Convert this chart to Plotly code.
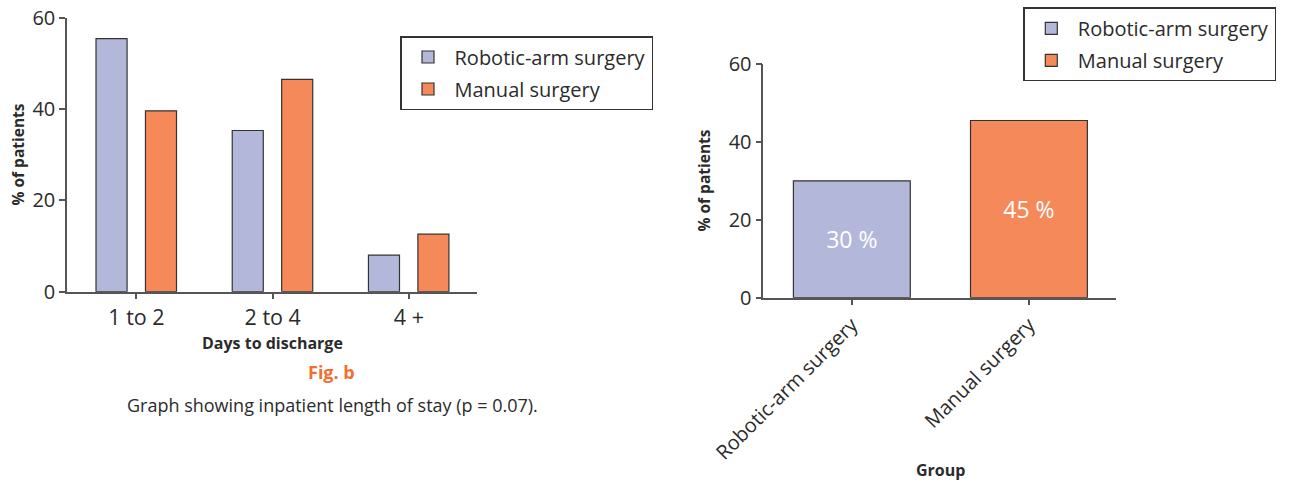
import plotly.graph_objects as go

W, H = 1316, 482
OFF = 0  # body margin removed below

# ---- data ----
days_categories = ["1 to 2", "2 to 4", "4 +"]
robotic_los = [55.4, 35.3, 8.0]
manual_los = [39.6, 46.5, 12.6]

group_categories = ["Robotic-arm surgery", "Manual surgery"]
group_robotic = [30.0]
group_manual = [45.5]
group_labels = ["30 %", "45 %"]

y_ticks = [0, 20, 40, 60]

# ---- style ----
FONT = "Open Sans"
TXT = "#2b2b2b"
AX = "#555555"
C_ROB = "#b3b8db"
C_MAN = "#f5895a"
EDGE = "#333333"
ORANGE = "#f26e30"

def px_x(p):
    return (p - OFF) / W

def px_y(p):
    return 1 - (p - OFF) / H

fig = go.Figure()

# left chart
fig.add_trace(go.Bar(
    x=days_categories, y=robotic_los, name="Robotic-arm surgery",
    marker=dict(color=C_ROB, line=dict(color=EDGE, width=1.2)),
    width=0.228, offset=-0.297, xaxis="x", yaxis="y",
    legend="legend", legendgroup="a", hoverinfo="x+y"))
fig.add_trace(go.Bar(
    x=days_categories, y=manual_los, name="Manual surgery",
    marker=dict(color=C_MAN, line=dict(color=EDGE, width=1.2)),
    width=0.228, offset=0.066, xaxis="x", yaxis="y",
    legend="legend", legendgroup="b", hoverinfo="x+y"))

# right chart
fig.add_trace(go.Bar(
    x=group_categories[:1], y=group_robotic, name="Robotic-arm surgery",
    marker=dict(color=C_ROB, line=dict(color=EDGE, width=1.2)),
    width=0.66, offset=-0.33, xaxis="x2", yaxis="y2",
    text=group_labels[:1], textposition="inside", insidetextanchor="middle",
    textfont=dict(family=FONT, size=23, color="white"),
    legend="legend2", legendgroup="c", hoverinfo="x+y"))
fig.add_trace(go.Bar(
    x=group_categories[1:], y=group_manual, name="Manual surgery",
    marker=dict(color=C_MAN, line=dict(color=EDGE, width=1.2)),
    width=0.66, offset=-0.33, xaxis="x2", yaxis="y2",
    text=group_labels[1:], textposition="inside", insidetextanchor="middle",
    textfont=dict(family=FONT, size=23, color="white"),
    legend="legend2", legendgroup="d", hoverinfo="x+y"))

axis_common = dict(
    showline=True, linecolor=AX, linewidth=1.5,
    ticks="outside", ticklen=6, tickwidth=1.5, tickcolor=AX,
    showgrid=False, zeroline=False, automargin=False,
)

legend_common = dict(
    bgcolor="white", bordercolor=EDGE, borderwidth=1.5,
    font=dict(family=FONT, size=20, color=TXT),
    itemwidth=43, tracegroupgap=3, traceorder="grouped",
    xanchor="left", yanchor="top", itemclick=False, itemdoubleclick=False,
)

fig.update_layout(
    template="none",
    width=W, height=H,
    margin=dict(l=0, r=0, t=0, b=0, autoexpand=False),
    paper_bgcolor="white", plot_bgcolor="white",
    showlegend=True,
    barmode="group",
    font=dict(family=FONT, color=TXT),
    xaxis=dict(domain=[px_x(67), px_x(477)], range=[-0.51, 2.5],
               anchor="y", tickfont=dict(family=FONT, size=21.5, color=TXT),
               **axis_common),
    yaxis=dict(domain=[px_y(291.7), px_y(17.7)], range=[0, 60],
               tickvals=y_ticks, anchor="x",
               tickfont=dict(family=FONT, size=20, color=TXT), **axis_common),
    xaxis2=dict(domain=[px_x(763.3), px_x(1115.7)], range=[-0.5, 1.49],
                anchor="y2", tickangle=-45,
                tickfont=dict(family=FONT, size=20, color=TXT), **axis_common),
    yaxis2=dict(domain=[px_y(297.7), px_y(64)], range=[0, 60],
                tickvals=y_ticks, anchor="x2",
                tickfont=dict(family=FONT, size=20, color=TXT), **axis_common),
    legend=dict(x=px_x(400), y=px_y(36), **legend_common),
    legend2=dict(x=px_x(1023.3), y=px_y(7.3), **legend_common),
)

ann = [
    dict(text="<b>% of patients</b>", x=px_x(17.5), y=px_y(155), textangle=-90,
         font=dict(family=FONT, size=15.5, color=TXT)),
    dict(text="<b>Days to discharge</b>", x=px_x(272.5), y=px_y(343.3),
         font=dict(family=FONT, size=16, color=TXT)),
    dict(text="<b>Fig. b</b>", x=px_x(331.7), y=px_y(371.7),
         font=dict(family=FONT, size=18, color=ORANGE)),
    dict(text="Graph showing inpatient length of stay (p = 0.07).",
         x=px_x(332.5), y=px_y(405),
         font=dict(family=FONT, size=18, color=TXT)),
    dict(text="<b>% of patients</b>", x=px_x(703.5), y=px_y(180), textangle=-90,
         font=dict(family=FONT, size=15.5, color=TXT)),
    dict(text="<b>Group</b>", x=px_x(940), y=px_y(470),
         font=dict(family=FONT, size=16, color=TXT)),
]
for a in ann:
    a.update(xref="paper", yref="paper", showarrow=False,
             xanchor="center", yanchor="middle")
fig.update_layout(annotations=ann)

fig.write_html(
    "out.html",
    config={"displayModeBar": False},
    post_script="document.body.style.margin='0';document.body.style.overflow='hidden';",
)
